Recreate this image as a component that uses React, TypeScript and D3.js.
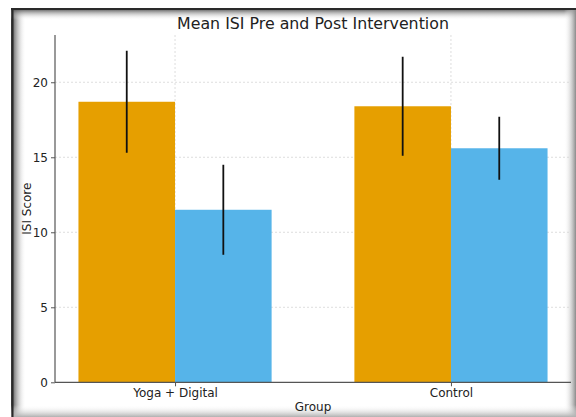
import React, { FC, useEffect, useRef } from "react";
import * as d3 from "d3";

// chart data
const groups = ["Yoga + Digital", "Control"];
const phases = ["Pre", "Post"];
const preMeans = [18.7, 18.4];
const postMeans = [11.5, 15.6];
const preErr = [3.4, 3.3];
const postErr = [3.0, 2.1];
const yTicks = [0, 5, 10, 15, 20];

const phaseColors = ["#E69F00", "#56B4E9"];

const W = 576;
const H = 417;

const App: FC = () => {
    const svgRef = useRef<SVGSVGElement | null>(null);

    useEffect(() => {
        if (!svgRef.current) return;
        const svg = d3.select(svgRef.current);
        svg.selectAll("*").remove();

        const font = "DejaVu Sans, sans-serif";
        const left = 55, right = 571, top = 35, bottom = 382.3;
        const barW = 0.35;

        const x = d3.scaleLinear().domain([-0.435, 1.435]).range([left, right]);
        const y = d3.scaleLinear().domain([0, 23.15]).range([bottom, top]);

        // Frame with inner shadow
        const defs = svg.append("defs");
        const mkGrad = (id: string, x1: string, y1: string, x2: string, y2: string, c: string) => {
            const g = defs.append("linearGradient").attr("id", id)
                .attr("x1", x1).attr("y1", y1).attr("x2", x2).attr("y2", y2);
            g.append("stop").attr("offset", "0%").attr("stop-color", c).attr("stop-opacity", 1);
            g.append("stop").attr("offset", "100%").attr("stop-color", "#fff").attr("stop-opacity", 0);
        };
        mkGrad("shL", "0", "0", "1", "0", "#3a3a3a");
        mkGrad("shT", "0", "0", "0", "1", "#3a3a3a");
        mkGrad("shR", "1", "0", "0", "0", "#8a8a8a");
        mkGrad("shB", "0", "1", "0", "0", "#b0b0b0");

        svg.append("rect").attr("width", W).attr("height", H).attr("fill", "#fff");
        svg.append("rect").attr("x", 11).attr("y", 8).attr("width", 15).attr("height", H - 8).attr("fill", "url(#shL)");
        svg.append("rect").attr("x", 11).attr("y", 8).attr("width", W - 11).attr("height", 12).attr("fill", "url(#shT)");
        svg.append("rect").attr("x", W - 12).attr("y", 8).attr("width", 12).attr("height", H - 8).attr("fill", "url(#shR)");
        svg.append("rect").attr("x", 11).attr("y", H - 12).attr("width", W - 11).attr("height", 12).attr("fill", "url(#shB)");
        svg.append("line").attr("x1", 11).attr("x2", W).attr("y1", 9).attr("y2", 9)
            .attr("stroke", "#2a2a2a").attr("stroke-width", 2);
        svg.append("line").attr("x1", 12.5).attr("x2", 12.5).attr("y1", 8).attr("y2", H)
            .attr("stroke", "#2a2a2a").attr("stroke-width", 2);

        // Grid
        svg.append("g").selectAll("line").data(yTicks.slice(1)).join("line")
            .attr("x1", left).attr("x2", right)
            .attr("y1", d => y(d)).attr("y2", d => y(d))
            .attr("stroke", "#d6d6d6").attr("stroke-width", 0.8).attr("stroke-dasharray", "2,2");
        svg.append("g").selectAll("line").data(groups).join("line")
            .attr("x1", (d, i) => x(i)).attr("x2", (d, i) => x(i))
            .attr("y1", top).attr("y2", bottom)
            .attr("stroke", "#d6d6d6").attr("stroke-width", 0.8).attr("stroke-dasharray", "2,2");

        // Bars
        const series = [
            { means: preMeans, errs: preErr, off: -barW / 2 },
            { means: postMeans, errs: postErr, off: barW / 2 },
        ];
        series.forEach((s, si) => {
            svg.append("g").selectAll("rect").data(s.means).join("rect")
                .attr("x", (d, i) => x(i + s.off - barW / 2))
                .attr("width", x(barW) - x(0))
                .attr("y", d => y(d))
                .attr("height", d => y(0) - y(d))
                .attr("fill", phaseColors[si])
                .append("title").text(phases[si]);
        });
        series.forEach(s => {
            svg.append("g").selectAll("line").data(s.means).join("line")
                .attr("x1", (d, i) => x(i + s.off)).attr("x2", (d, i) => x(i + s.off))
                .attr("y1", (d, i) => y(d + s.errs[i])).attr("y2", (d, i) => y(d - s.errs[i]))
                .attr("stroke", "#111").attr("stroke-width", 1.8);
        });

        // Axes
        const yAxis = svg.append("g").attr("transform", `translate(${left},0)`)
            .call(d3.axisLeft(y).tickValues(yTicks).tickSize(4).tickPadding(3));
        const xAxis = svg.append("g").attr("transform", `translate(0,${bottom})`)
            .call(d3.axisBottom(x).tickValues([0, 1]).tickFormat((d, i) => groups[i]).tickSize(4).tickPadding(2));
        [yAxis, xAxis].forEach(a => {
            a.select(".domain").attr("stroke", "#555").attr("stroke-width", 1.2);
            a.selectAll(".tick line").attr("stroke", "#555");
            a.selectAll("text").attr("font-family", font).attr("font-size", 12).attr("fill", "#222");
        });
        yAxis.select(".domain").attr("d", `M0,${bottom}V${top}`);
        xAxis.select(".domain").attr("d", `M${left},0H${right}`);

        // Labels
        svg.append("text").attr("x", (left + right) / 2).attr("y", 28.5)
            .attr("text-anchor", "middle").attr("font-family", font).attr("font-size", 15.8)
            .attr("fill", "#222").text("Mean ISI Pre and Post Intervention");
        svg.append("text").attr("x", (left + right) / 2).attr("y", 411)
            .attr("text-anchor", "middle").attr("font-family", font).attr("font-size", 12)
            .attr("fill", "#222").text("Group");
        svg.append("text").attr("transform", `translate(31,${(top + bottom) / 2}) rotate(-90)`)
            .attr("text-anchor", "middle").attr("font-family", font).attr("font-size", 12)
            .attr("fill", "#222").text("ISI Score");
    }, []);

    return (
        <svg ref={svgRef} width={W} height={H}
            style={{ position: "absolute", left: 0, top: 0, display: "block" }} />
    );
};

export default App;
